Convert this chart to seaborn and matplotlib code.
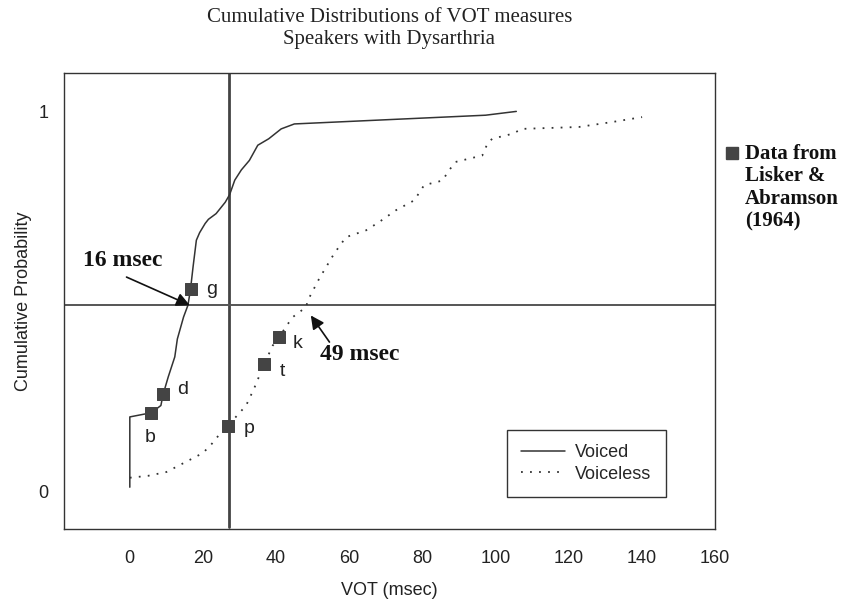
import numpy as np
import pandas as pd
import matplotlib
matplotlib.use('Agg')
import matplotlib.pyplot as plt
import seaborn as sns

# ── Data ───────────────────────────────────────────────────────────────────────
voiced_x = [0, 0, 5.9, 8.5, 9.1, 10.5, 12.3, 13.0, 14.7, 15.9, 16.6, 17.3, 18.2,
            19.1, 20.6, 21.5, 23.6, 26.1, 27.3, 28.7, 30.5, 32.7, 35.0, 38.0,
            41.4, 45.0, 70.0, 97.3, 105.7]
voiced_y = [0.01, 0.195, 0.206, 0.225, 0.254, 0.30, 0.353, 0.40, 0.458, 0.489,
            0.531, 0.59, 0.66, 0.68, 0.704, 0.715, 0.73, 0.76, 0.78, 0.818,
            0.845, 0.87, 0.91, 0.927, 0.953, 0.966, 0.977, 0.989, 0.999]

voiceless_x = [0, 5, 10, 15, 20, 22.5, 24.6, 26.9, 29, 31.8, 34, 36.7, 39.1, 40.9,
               42.5, 44.6, 48.2, 48.7, 51.8, 55.9, 59.1, 64.6, 68.2, 72.8, 77.8,
               80.5, 85.5, 87.3, 89.1, 96.4, 97.8, 99.1, 104.6, 107.3, 122.8,
               131.9, 140.1]
voiceless_y = [0.035, 0.04, 0.05, 0.075, 0.10, 0.125, 0.15, 0.171, 0.195, 0.225,
               0.27, 0.333, 0.383, 0.404, 0.43, 0.458, 0.484, 0.502, 0.559, 0.625,
               0.668, 0.686, 0.708, 0.739, 0.765, 0.805, 0.817, 0.844, 0.866,
               0.883, 0.914, 0.927, 0.94, 0.953, 0.958, 0.971, 0.984]

# Lisker & Abramson (1964) points
la_labels = ['b', 'd', 'g', 'p', 't', 'k']
la_x = [5.9, 9.1, 16.6, 26.9, 36.7, 40.9]
la_y = [0.206, 0.254, 0.531, 0.171, 0.333, 0.404]
la_label_x = [5.6, 14.5, 22.3, 32.5, 41.7, 45.8]
la_label_y = [0.142, 0.266, 0.53, 0.165, 0.314, 0.387]

VLINE_X = 27
HLINE_Y = 0.49

# ── Style ──────────────────────────────────────────────────────────────────────
sns.set_style('white')
plt.rcParams['font.family'] = ['Liberation Sans', 'DejaVu Sans']
INK = '#333333'

fig = plt.figure(figsize=(8.42, 6.05), dpi=100)
ax = fig.add_axes([0.076, 0.1256, 0.773, 0.7537])

sns.lineplot(x=voiced_x, y=voiced_y, estimator=None, sort=False, ax=ax,
             color=INK, linewidth=1.1, label='Voiced')
sns.lineplot(x=voiceless_x, y=voiceless_y, estimator=None, sort=False, ax=ax,
             color=INK, linewidth=1.3, linestyle=(0, (1, 4)), label='Voiceless')

ax.axvline(VLINE_X, ymin=0.005, ymax=1, color='#444444', linewidth=2.0, zorder=1)
ax.axhline(HLINE_Y, color='#555555', linewidth=1.4, zorder=1)

sns.scatterplot(x=la_x, y=la_y, ax=ax, marker='s', s=80, color='#444444',
                edgecolor='#444444', zorder=5, legend=False)
for lab, tx, ty in zip(la_labels, la_label_x, la_label_y):
    ax.text(tx, ty, lab, fontsize=14, ha='center', va='center', color='#222222')

# ── Annotations ────────────────────────────────────────────────────────────────
serif = ['Liberation Serif', 'DejaVu Serif']
ax.annotate('', xy=(16.4, 0.489), xytext=(-0.9, 0.563),
            arrowprops=dict(arrowstyle='-|>', color='#111111', lw=1.2,
                            mutation_scale=20, shrinkA=0, shrinkB=0))
ax.text(-1.9, 0.606, '16 msec', fontsize=17, fontweight='bold', family=serif,
        ha='center', va='center', color='#111111')
ax.annotate('', xy=(49.5, 0.462), xytext=(54.6, 0.392),
            arrowprops=dict(arrowstyle='-|>', color='#111111', lw=1.2,
                            mutation_scale=20, shrinkA=0, shrinkB=0))
ax.text(63, 0.36, '49 msec', fontsize=17, fontweight='bold', family=serif,
        ha='center', va='center', color='#111111')

# ── Axes ───────────────────────────────────────────────────────────────────────
ax.set_xlim(-18, 160)
ax.set_ylim(-0.1, 1.1)
ax.set_xticks(np.arange(0, 161, 20))
ax.set_yticks([0, HLINE_Y, 1])
ax.set_yticklabels(['0', '', '1'])
ax.tick_params(axis='both', direction='out', length=5, width=1, color=INK,
               labelsize=13, labelcolor='#222222')
ax.tick_params(axis='x', pad=10)
ax.tick_params(axis='y', pad=6)
for sp in ax.spines.values():
    sp.set_visible(True)
    sp.set_color(INK)
    sp.set_linewidth(1.0)

ax.set_xlabel('VOT (msec)', fontsize=13, labelpad=11, color='#222222')
ax.set_ylabel('Cumulative Probability', fontsize=13, labelpad=5, color='#222222')
ax.set_title('Cumulative Distributions of VOT measures\nSpeakers with Dysarthria',
             family=serif, fontsize=15, pad=21, color='#222222', linespacing=1.22)

leg = ax.legend(loc='lower right', bbox_to_anchor=(0.925, 0.07), fontsize=13,
                frameon=True, fancybox=False, edgecolor=INK, framealpha=1,
                borderaxespad=0, handlelength=2.4, handletextpad=0.6,
                labelspacing=0.25, borderpad=0.8)
leg.get_frame().set_linewidth(1.0)

# side note outside the axes
ax.plot([0.869], [0.747], marker='s', markersize=8.5, color='#444444',
        transform=fig.transFigure, clip_on=False)
fig.text(0.885, 0.762, 'Data from\nLisker &\nAbramson\n(1964)', family=serif,
         fontsize=15, fontweight='bold', va='top', ha='left', color='#111111',
         linespacing=1.16)

plt.savefig('out.png', dpi=100)
plt.close()
